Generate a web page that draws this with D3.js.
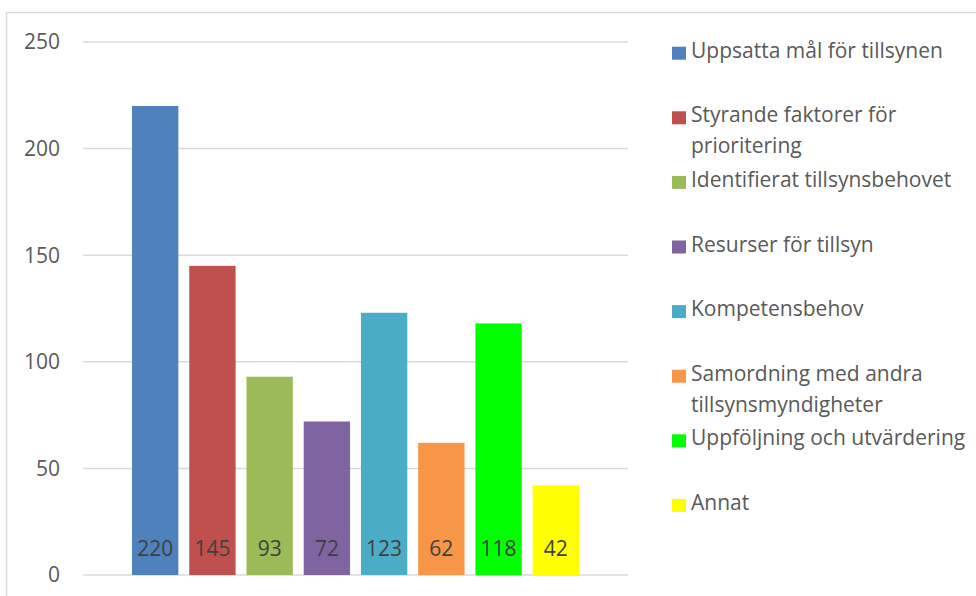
<!DOCTYPE html>
<html>
<head>
<meta charset="utf-8">
<script src="https://cdn.jsdelivr.net/npm/d3@7"></script>
<style>
  body { margin: 0; background: #fff; }
  svg { display: block; font-family: "Open Sans", "Liberation Sans", sans-serif; }
</style>
</head>
<body>
<svg id="chart" width="976" height="596"></svg>
<script>
// categories, values and colours
var categories = ["Uppsatta mål för tillsynen", "Styrande faktorer för prioritering",
  "Identifierat tillsynsbehovet", "Resurser för tillsyn", "Kompetensbehov",
  "Samordning med andra tillsynsmyndigheter", "Uppföljning och utvärdering", "Annat"];
var legendLines = [["Uppsatta mål för tillsynen"], ["Styrande faktorer för", "prioritering"],
  ["Identifierat tillsynsbehovet"], ["Resurser för tillsyn"], ["Kompetensbehov"],
  ["Samordning med andra", "tillsynsmyndigheter"], ["Uppföljning och utvärdering"], ["Annat"]];
var values = [220, 145, 93, 72, 123, 62, 118, 42];
var colors = ["#4f81bd", "#c0504d", "#9bbb59", "#8064a2", "#4bacc6", "#f79646", "#00ff00", "#ffff00"];
var yTicks = [0, 50, 100, 150, 200, 250];

var svg = d3.select("#chart");

// outer chart-area border (only left and top visible)
svg.append("rect")
  .attr("x", 6.5).attr("y", 12.5)
  .attr("width", 1000).attr("height", 1000)
  .attr("fill", "none")
  .attr("stroke", "#d9d9d9")
  .attr("stroke-width", 1.5);

var plotLeft = 83, plotRight = 628;
var y = d3.scaleLinear().domain([0, 250]).range([575, 42]);
var x = d3.scaleBand()
  .domain(categories)
  .range([132, 579])
  .paddingInner(0.19)
  .paddingOuter(0);

// gridlines
svg.append("g").selectAll("line")
  .data(yTicks)
  .enter().append("line")
  .attr("x1", plotLeft).attr("x2", plotRight)
  .attr("y1", function(d) { return y(d); })
  .attr("y2", function(d) { return y(d); })
  .attr("stroke", "#d9d9d9")
  .attr("stroke-width", 1.5);

// y axis labels
svg.append("g").selectAll("text")
  .data(yTicks)
  .enter().append("text")
  .attr("x", 60)
  .attr("y", function(d) { return y(d); })
  .attr("dy", "0.35em")
  .attr("text-anchor", "end")
  .attr("fill", "#595959")
  .style("font-size", "21px")
  .text(function(d) { return d; });

// bars
svg.append("g").selectAll("rect")
  .data(values)
  .enter().append("rect")
  .attr("x", function(d, i) { return x(categories[i]); })
  .attr("width", x.bandwidth())
  .attr("y", function(d) { return y(d); })
  .attr("height", function(d) { return y(0) - y(d); })
  .attr("fill", function(d, i) { return colors[i]; });

// value labels at bottom of bars
svg.append("g").selectAll("text")
  .data(values)
  .enter().append("text")
  .attr("x", function(d, i) { return x(categories[i]) + x.bandwidth() / 2; })
  .attr("y", 556)
  .attr("text-anchor", "middle")
  .attr("fill", "#404040")
  .style("font-size", "21px")
  .text(function(d) { return d; });

// legend
var legend = svg.append("g").selectAll("g")
  .data(legendLines)
  .enter().append("g")
  .attr("transform", function(d, i) { return "translate(672," + (57.7 + i * 64.6) + ")"; });

legend.append("rect")
  .attr("x", 0).attr("y", -11)
  .attr("width", 14).attr("height", 13)
  .attr("fill", function(d, i) { return colors[i]; });

legend.append("text")
  .attr("fill", "#595959")
  .style("font-size", "21px")
  .selectAll("tspan")
  .data(function(d) { return d; })
  .enter().append("tspan")
  .attr("x", 19)
  .attr("y", function(d, j) { return j * 31; })
  .text(function(d) { return d; });
</script>
</body>
</html>
